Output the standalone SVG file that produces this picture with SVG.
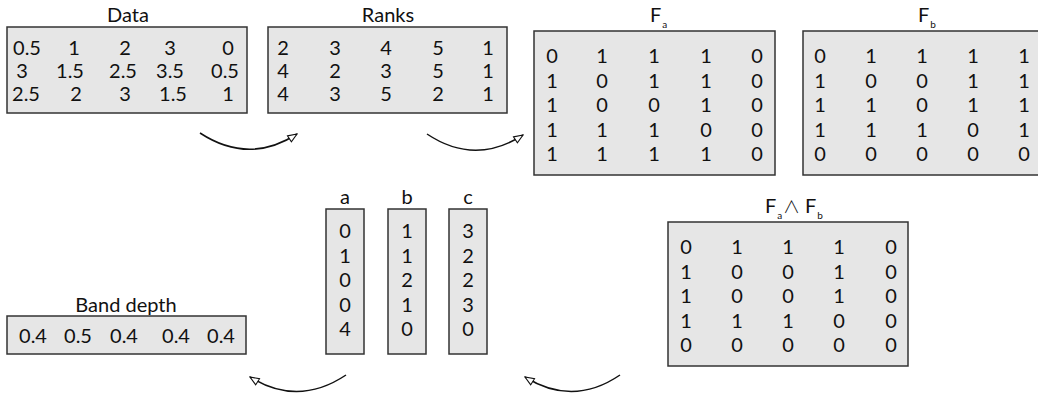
<svg xmlns="http://www.w3.org/2000/svg" width="1038" height="394" viewBox="0 0 1038 394">
<defs>
<style>
.box{fill:#e6e6e6;stroke:#333;stroke-width:1.5}
text{font-family:Lato,"Open Sans","DejaVu Sans",sans-serif;font-size:20px;fill:#111}
.t{text-anchor:middle}
.c{text-anchor:middle}
.sub{font-size:10px}
.wedge{font-family:"DejaVu Sans ExtraLight","Noto Sans CJK JP","DejaVu Sans",sans-serif;font-weight:200;font-size:17px}
.arr{fill:none;stroke:#111;stroke-width:1.5;marker-end:url(#ah)}
</style>
<marker id="ah" viewBox="0 0 12 10" refX="11" refY="5" markerWidth="11" markerHeight="9" markerUnits="userSpaceOnUse" orient="auto">
<path d="M1,1 L11,5 L1,9 Z" fill="#fff" stroke="#111" stroke-width="1.2"/>
</marker>
</defs>

<g id="data">
<text class="t" x="128" y="22">Data</text>
<rect class="box" x="7" y="27" width="240" height="86"/>
<text class="c" x="27" y="55">0.5</text><text class="c" x="74" y="55">1</text><text class="c" x="125" y="55">2</text><text class="c" x="170" y="55">3</text><text class="c" x="228" y="55">0</text>
<text class="c" x="22" y="78">3</text><text class="c" x="70" y="78">1.5</text><text class="c" x="123" y="78">2.5</text><text class="c" x="170" y="78">3.5</text><text class="c" x="225" y="78">0.5</text>
<text class="c" x="26" y="101">2.5</text><text class="c" x="76" y="101">2</text><text class="c" x="125" y="101">3</text><text class="c" x="173" y="101">1.5</text><text class="c" x="228" y="101">1</text>
</g>

<g id="ranks">
<text class="t" x="388" y="22">Ranks</text>
<rect class="box" x="268" y="27" width="239" height="86"/>
<text class="c" x="283" y="55">2</text><text class="c" x="335" y="55">3</text><text class="c" x="386" y="55">4</text><text class="c" x="438" y="55">5</text><text class="c" x="488" y="55">1</text>
<text class="c" x="283" y="78">4</text><text class="c" x="335" y="78">2</text><text class="c" x="386" y="78">3</text><text class="c" x="438" y="78">5</text><text class="c" x="488" y="78">1</text>
<text class="c" x="283" y="101">4</text><text class="c" x="335" y="101">3</text><text class="c" x="386" y="101">5</text><text class="c" x="438" y="101">2</text><text class="c" x="488" y="101">1</text>
</g>

<g id="fa">
<text x="650" y="22">F<tspan class="sub" dx="1" dy="6">a</tspan></text>
<rect class="box" x="534" y="31" width="241" height="144"/>
<text class="c" x="552" y="63">0</text><text class="c" x="602" y="63">1</text><text class="c" x="654" y="63">1</text><text class="c" x="706" y="63">1</text><text class="c" x="757" y="63">0</text>
<text class="c" x="552" y="87.5">1</text><text class="c" x="602" y="87.5">0</text><text class="c" x="654" y="87.5">1</text><text class="c" x="706" y="87.5">1</text><text class="c" x="757" y="87.5">0</text>
<text class="c" x="552" y="112">1</text><text class="c" x="602" y="112">0</text><text class="c" x="654" y="112">0</text><text class="c" x="706" y="112">1</text><text class="c" x="757" y="112">0</text>
<text class="c" x="552" y="136.5">1</text><text class="c" x="602" y="136.5">1</text><text class="c" x="654" y="136.5">1</text><text class="c" x="706" y="136.5">0</text><text class="c" x="757" y="136.5">0</text>
<text class="c" x="552" y="161">1</text><text class="c" x="602" y="161">1</text><text class="c" x="654" y="161">1</text><text class="c" x="706" y="161">1</text><text class="c" x="757" y="161">0</text>
</g>

<g id="fb">
<text x="918" y="22">F<tspan class="sub" dx="1" dy="6">b</tspan></text>
<rect class="box" x="803" y="31" width="250" height="144"/>
<text class="c" x="820" y="63">0</text><text class="c" x="871" y="63">1</text><text class="c" x="922" y="63">1</text><text class="c" x="973" y="63">1</text><text class="c" x="1024" y="63">1</text>
<text class="c" x="820" y="87.5">1</text><text class="c" x="871" y="87.5">0</text><text class="c" x="922" y="87.5">0</text><text class="c" x="973" y="87.5">1</text><text class="c" x="1024" y="87.5">1</text>
<text class="c" x="820" y="112">1</text><text class="c" x="871" y="112">1</text><text class="c" x="922" y="112">0</text><text class="c" x="973" y="112">1</text><text class="c" x="1024" y="112">1</text>
<text class="c" x="820" y="136.5">1</text><text class="c" x="871" y="136.5">1</text><text class="c" x="922" y="136.5">1</text><text class="c" x="973" y="136.5">0</text><text class="c" x="1024" y="136.5">1</text>
<text class="c" x="820" y="161">0</text><text class="c" x="871" y="161">0</text><text class="c" x="922" y="161">0</text><text class="c" x="973" y="161">0</text><text class="c" x="1024" y="161">0</text>
</g>

<g id="fafb">
<text x="765" y="213">F<tspan class="sub" dx="1" dy="6">a</tspan><tspan class="wedge" x="783" y="213">∧</tspan><tspan x="805" y="213">F</tspan><tspan class="sub" dx="1" dy="6">b</tspan></text>
<rect class="box" x="668" y="222" width="240" height="144"/>
<text class="c" x="686" y="254">0</text><text class="c" x="737" y="254">1</text><text class="c" x="788" y="254">1</text><text class="c" x="839" y="254">1</text><text class="c" x="891" y="254">0</text>
<text class="c" x="686" y="278.5">1</text><text class="c" x="737" y="278.5">0</text><text class="c" x="788" y="278.5">0</text><text class="c" x="839" y="278.5">1</text><text class="c" x="891" y="278.5">0</text>
<text class="c" x="686" y="303">1</text><text class="c" x="737" y="303">0</text><text class="c" x="788" y="303">0</text><text class="c" x="839" y="303">1</text><text class="c" x="891" y="303">0</text>
<text class="c" x="686" y="327.5">1</text><text class="c" x="737" y="327.5">1</text><text class="c" x="788" y="327.5">1</text><text class="c" x="839" y="327.5">0</text><text class="c" x="891" y="327.5">0</text>
<text class="c" x="686" y="352">0</text><text class="c" x="737" y="352">0</text><text class="c" x="788" y="352">0</text><text class="c" x="839" y="352">0</text><text class="c" x="891" y="352">0</text>
</g>

<g id="col-a">
<text class="t" x="345" y="204">a</text>
<rect class="box" x="326" y="209" width="38" height="145"/>
<text class="c" x="345" y="238">0</text><text class="c" x="345" y="262.5">1</text><text class="c" x="345" y="287">0</text><text class="c" x="345" y="311.5">0</text><text class="c" x="345" y="336">4</text>
</g>
<g id="col-b">
<text class="t" x="407" y="204">b</text>
<rect class="box" x="388" y="209" width="38" height="145"/>
<text class="c" x="407" y="238">1</text><text class="c" x="407" y="262.5">1</text><text class="c" x="407" y="287">2</text><text class="c" x="407" y="311.5">1</text><text class="c" x="407" y="336">0</text>
</g>
<g id="col-c">
<text class="t" x="468" y="204">c</text>
<rect class="box" x="449" y="209" width="38" height="145"/>
<text class="c" x="468" y="238">3</text><text class="c" x="468" y="262.5">2</text><text class="c" x="468" y="287">2</text><text class="c" x="468" y="311.5">3</text><text class="c" x="468" y="336">0</text>
</g>

<g id="banddepth">
<text class="t" x="126" y="312">Band depth</text>
<rect class="box" x="7" y="316" width="239" height="38"/>
<text class="c" x="33" y="343">0.4</text><text class="c" x="78" y="343">0.5</text><text class="c" x="124" y="343">0.4</text><text class="c" x="176" y="343">0.4</text><text class="c" x="221" y="343">0.4</text>
</g>

<g id="connectors">
<path class="arr" d="M200,133 Q249,165 297,134"/>
<path class="arr" d="M427,134 Q475,166 523,135"/>
<path class="arr" d="M620,375 Q573,407 525,377"/>
<path class="arr" d="M346,375 Q298,407 250,377"/>
</g>
</svg>
